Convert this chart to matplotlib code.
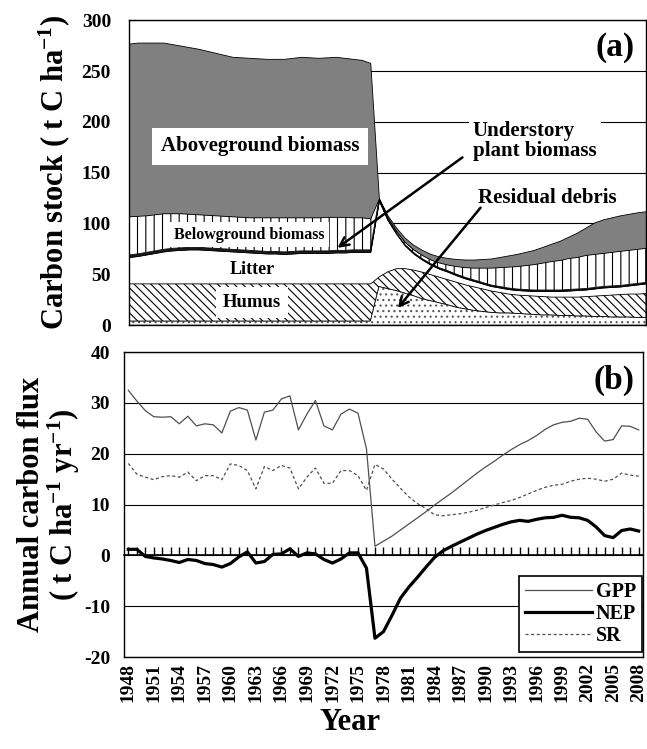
import numpy as np
import matplotlib
matplotlib.use('Agg')
import matplotlib.pyplot as plt

years = list(range(1948, 2009))

# carbon stock components (t C / ha), stacked from the bottom up
residual_debris = [4, 4, 4, 4, 4, 4, 4, 4, 4, 4,
                   4, 4, 4, 4, 4, 4, 4, 4, 4, 4,
                   4, 4, 4, 4, 4, 4, 4, 4, 4,
                   38, 36, 34, 31.5, 29, 26, 24, 22, 20, 17.5,
                   16, 14.5, 13.5, 12.5, 12, 12, 11.5, 11, 10.5, 10,
                   10, 9.5, 9.5, 9, 9, 8.5, 8.5, 8, 8, 8,
                   7.5, 7.5]
humus = [37, 37, 37, 37, 37, 37, 37, 37, 37, 37,
         37, 37, 37, 37, 37, 37, 37, 37, 37, 37,
         37, 37, 37, 37, 37, 37, 37, 37, 37,
         10, 17, 22, 24.5, 25.5, 26.5, 26, 25.5, 25, 25,
         24, 23.5, 22.5, 21.5, 20.5, 19, 18.5, 18.5, 18.5, 18.5,
         18, 18.5, 18.5, 19, 19.5, 20.5, 21, 22, 22.5, 23,
         23.5, 24]
litter = [26, 27, 28.5, 30, 31.5, 32.5, 33, 33.5, 33.5, 33,
          32.5, 32, 31.5, 31, 30.5, 30, 29.5, 29.5, 29, 29.5,
          30, 30, 30, 30, 30.5, 30.5, 31, 31, 31,
          74.5, 50.5, 34, 22.5, 16, 12, 9.5, 8, 7.5, 6.5,
          6, 5.5, 5, 4.5, 4.5, 4.5, 4.5, 4.5, 4.5, 5,
          5.5, 5.5, 6, 6.5, 6.5, 7, 7.5, 7.5, 7.5, 8,
          9, 9.5]
understory = [2, 2, 2, 2, 2, 2, 2, 2, 2, 2,
              2, 2, 2, 2, 2, 2, 2, 2, 2, 2,
              2, 2, 2, 2, 2, 2, 2, 2, 2,
              1, 1, 1, 1, 1, 1, 1, 1, 1, 1,
              1, 1, 1, 1, 1, 1, 1, 1, 1, 1,
              1, 1, 1, 1, 1, 1, 1, 1, 1, 1,
              1, 1]
belowground = [38, 37.5, 36.5, 36, 35.5, 34.5, 34, 33, 32.5, 32.5,
               32.5, 32.5, 32.5, 32.5, 32.5, 33, 33.5, 33.5, 34, 33.5,
               33, 33, 33, 33.5, 33, 33, 32, 32, 31,
               1, 1.5, 2, 2.5, 3, 3.5, 4, 5, 6, 8,
               10, 12, 14.5, 17, 19, 21, 22.5, 24, 25.5, 27,
               28.5, 29.5, 31, 31.5, 33, 33, 33, 33.5, 34, 34,
               34, 34]
aboveground = [170, 170.5, 170, 169, 168, 166.5, 165, 164, 163, 161.5,
               160, 158.5, 157, 157, 157, 156.5, 156, 156, 156, 157,
               158, 157.5, 157, 157, 157.5, 156.5, 156, 155, 153,
               0.5, 2, 3, 4, 4.5, 5, 5.5, 6, 6.5, 7,
               7.5, 8, 8.5, 9, 10, 11, 12, 13, 14, 15.5,
               17, 19, 21, 24, 27, 31, 33, 34, 35, 35.5,
               36, 36]

# annual carbon fluxes (t C / ha / yr)
gpp = [32.5, 30.4, 28.5, 27.3, 27.2, 27.3, 25.9, 27.4, 25.5, 25.9, 25.7,
       24.1, 28.4, 29.1, 28.6, 22.7, 28.2, 28.6, 30.8, 31.4, 24.7,
       27.8, 30.5, 25.5, 24.7, 27.8, 28.8, 28.0, 21.0, 1.8, 2.8,
       3.8, 5.0, 6.2, 7.4, 8.6, 9.9, 11.1, 12.3, 13.6, 14.9,
       16.2, 17.4, 18.5, 19.7, 20.8, 21.8, 22.6, 23.6, 24.8, 25.7,
       26.2, 26.4, 27.0, 26.8, 24.3, 22.5, 22.8, 25.5, 25.4, 24.7]
nep = [1.2, 1.2, -0.2, -0.5, -0.7, -1.0, -1.4, -0.8, -1.0, -1.6, -1.8,
       -2.3, -1.6, -0.3, 0.7, -1.5, -1.2, 0.2, 0.3, 1.3, -0.2,
       0.5, 0.3, -0.8, -1.5, -0.7, 0.5, 0.5, -2.5, -16.3, -15.0,
       -11.8, -8.4, -6.2, -4.3, -2.3, -0.4, 0.9, 1.8, 2.6, 3.4,
       4.2, 4.9, 5.5, 6.1, 6.6, 6.9, 6.7, 7.1, 7.4, 7.5,
       7.9, 7.5, 7.4, 6.9, 5.6, 3.9, 3.5, 4.9, 5.2, 4.8]
sr = [18.1, 16.0, 15.4, 14.9, 15.5, 15.7, 15.4, 16.4, 14.7, 15.7, 15.7,
      14.9, 18.0, 17.7, 16.7, 13.1, 17.5, 16.7, 17.7, 17.2, 13.1,
      15.4, 17.2, 14.2, 14.2, 16.7, 16.7, 15.7, 12.8, 17.9, 17.0,
      15.0, 13.2, 11.5, 10.2, 9.2, 8.0, 7.8, 8.0, 8.2, 8.5,
      8.9, 9.4, 9.9, 10.4, 10.8, 11.4, 12.1, 12.8, 13.4, 13.8,
      14.0, 14.6, 15.0, 15.2, 15.0, 14.6, 15.0, 16.2, 15.8, 15.6]

plt.rcParams.update({
    'font.family': 'Liberation Serif',
    'font.weight': 'bold',
    'axes.labelweight': 'bold',
    'axes.unicode_minus': False,
    'mathtext.fontset': 'custom',
    'mathtext.rm': 'Liberation Serif:bold',
    'mathtext.default': 'rm',
    'hatch.linewidth': 0.8,
})

fig = plt.figure(figsize=(6.47, 7.49), dpi=100)
ax1 = fig.add_axes([0.1994, 0.566, 0.799, 0.407])
ax2 = fig.add_axes([0.1917, 0.1228, 0.802, 0.407])

x = np.arange(len(years))

# (a) stacked carbon stocks
layers = [(residual_debris, '...', 'white', '#555555'),
          (humus, '\\\\\\\\', 'white', 'black'),
          (litter, None, 'white', 'black'),
          (understory, None, '#202020', 'black'),
          (belowground, '||', 'white', 'black'),
          (aboveground, None, '#808080', 'black')]
base = np.zeros(len(x))
for vals, hatch, color, edge in layers:
    top = base + np.array(vals)
    ax1.fill_between(x, base, top, facecolor=color, edgecolor=edge,
                     hatch=hatch, linewidth=0.6, zorder=2)
    base = top

ax1.set_xlim(0, 60)
ax1.set_ylim(0, 300)
ax1.set_yticks(range(0, 301, 50))
ax1.set_xticks([])
ax1.yaxis.grid(True, color='black', lw=0.8)
ax1.set_axisbelow(True)
ax1.tick_params(axis='y', direction='in', length=5, pad=13, labelsize=14)
ax1.set_ylabel('Carbon stock ( t C ha$^{-1}$)', fontsize=22)
ax1.yaxis.set_label_coords(-0.110, 0.5)

box = dict(facecolor='white', edgecolor='none', pad=3)
ax1.text(15.2, 176, 'Aboveground biomass', ha='center', va='center', fontsize=15,
         bbox=dict(facecolor='white', edgecolor='none', pad=6), zorder=5)
ax1.text(14.0, 89, 'Belowground biomass', ha='center', va='center', fontsize=11.5,
         bbox=box, zorder=5)
ax1.text(14.3, 55, 'Litter', ha='center', va='center', fontsize=13, zorder=5)
ax1.text(14.3, 22, 'Humus', ha='center', va='center', fontsize=13.5,
         bbox=dict(facecolor='white', edgecolor='none', pad=5), zorder=5)
ax1.text(0.94, 0.911, '(a)', transform=ax1.transAxes, ha='center', va='center',
         fontsize=24, zorder=5)
ax1.text(39.9, 181, 'Understory\nplant biomass', ha='left', va='center',
         fontsize=15, linespacing=1.0, bbox=box, zorder=5)
ax1.text(40.5, 125, 'Residual debris', ha='left', va='center', fontsize=15, zorder=5)
arrow = dict(arrowstyle='->', color='black', lw=1.8, mutation_scale=16,
             shrinkA=0, shrinkB=0)
ax1.annotate('', xy=(24.2, 76), xytext=(38.7, 165), arrowprops=arrow, zorder=6)
ax1.annotate('', xy=(31.2, 16.8), xytext=(40.8, 115.5), arrowprops=arrow, zorder=6)

# (b) annual fluxes
ax2.plot(x, gpp, color='#505050', lw=0.9, label='GPP')
ax2.plot(x, nep, color='black', lw=2.3, label='NEP')
ax2.plot(x, sr, color='#505050', lw=0.9, ls=(0, (2.5, 2)), label='SR')
ax2.set_xlim(-0.5, 60.5)
ax2.set_ylim(-20, 40)
ax2.set_yticks(range(-20, 41, 10))
ax2.yaxis.grid(True, color='black', lw=0.8)
ax2.set_axisbelow(True)
ax2.set_xticks(x[::3])
ax2.set_xticklabels(years[::3], rotation=90)
ax2.tick_params(axis='x', length=0, pad=4, labelsize=14)
ax2.tick_params(axis='y', length=0, pad=10, labelsize=14)

# category axis crossing at zero with its tick marks
zero_axis = ax2.secondary_xaxis((0 - (-20)) / 60)
zero_axis.set_xticks(x)
zero_axis.tick_params(direction='in', length=6, width=1, labelbottom=False)
zero_axis.spines['bottom'].set_linewidth(1.2)

ax2.text(0.944, 0.908, '(b)', transform=ax2.transAxes, ha='center', va='center',
         fontsize=24)
leg = ax2.legend(loc='lower right', bbox_to_anchor=(0.998, 0.016), fontsize=14.5,
                 fancybox=False, edgecolor='black', framealpha=1, handlelength=3.3,
                 borderpad=0.3, labelspacing=0.1, handletextpad=0.2,
                 borderaxespad=0)
leg.get_frame().set_linewidth(1.2)

ax2.set_ylabel('Annual carbon flux\n( t C ha$^{-1}$ yr$^{-1}$)', fontsize=22,
               linespacing=1.0)
ax2.yaxis.set_label_coords(-0.081, 0.5)
ax2.set_xlabel('Year', fontsize=22)
ax2.xaxis.set_label_coords(0.435, -0.167)

for ax in (ax1, ax2):
    for sp in ax.spines.values():
        sp.set_color('black')
        sp.set_linewidth(1.0)

fig.savefig('out.png', dpi=100)
